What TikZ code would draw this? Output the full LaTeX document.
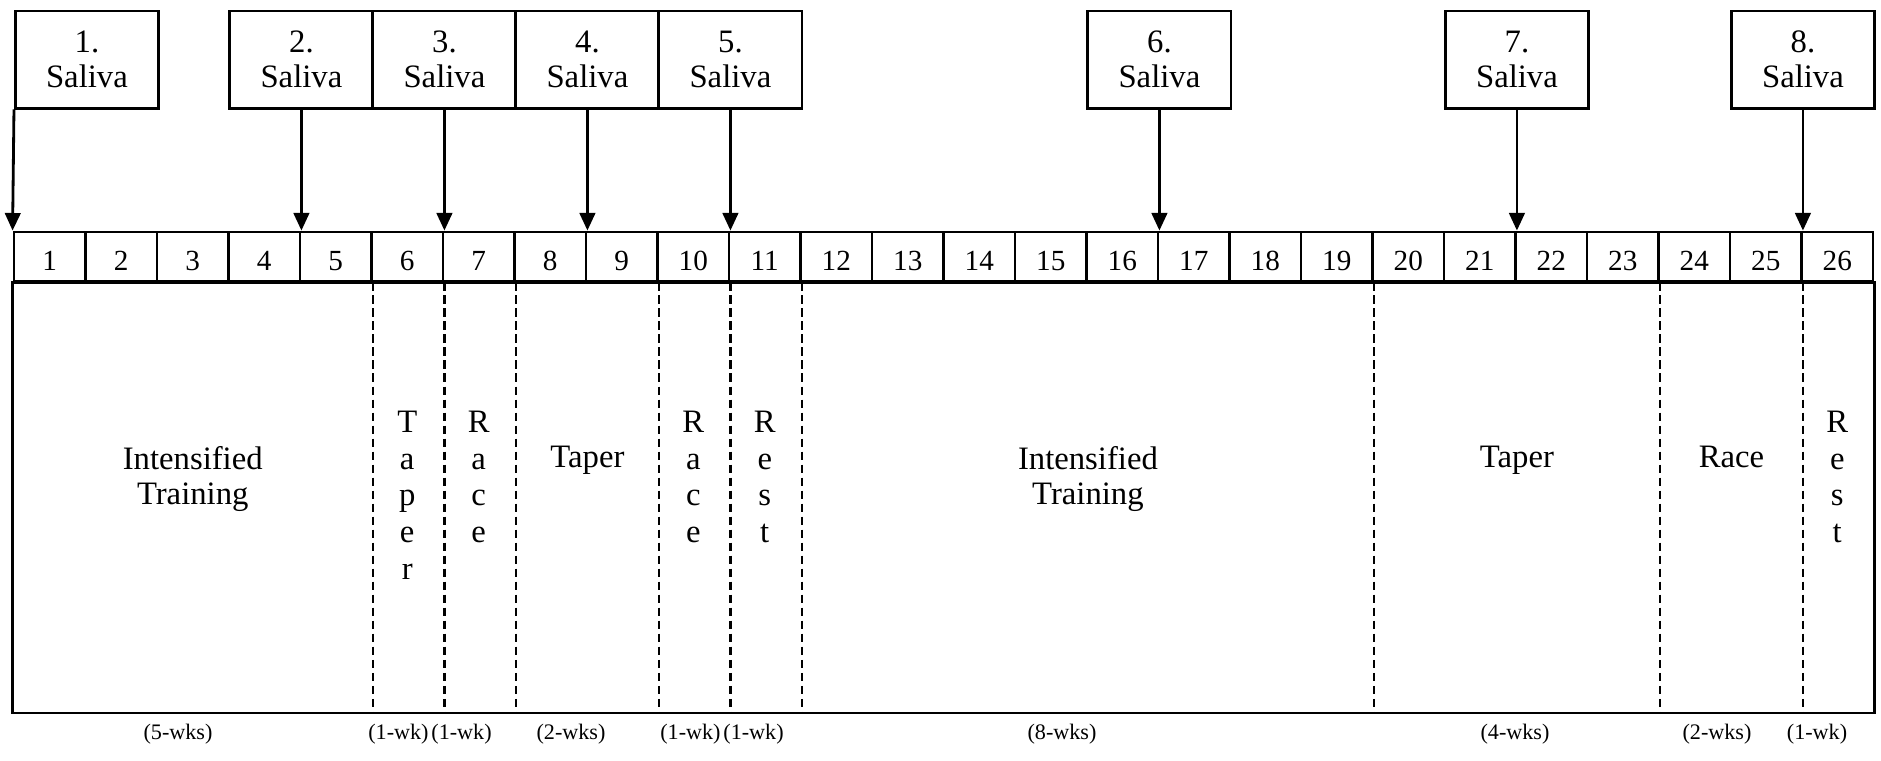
\documentclass[tikz,border=0pt]{standalone}
\usepackage{fontspec}
\setmainfont{Liberation Serif}
\usetikzlibrary{arrows.meta,positioning}

\begin{document}
\begin{tikzpicture}[x=0.01cm, y=-0.01cm, line width=0.8pt,
    >={Triangle[length=5pt,width=4.4pt]},
    week/.style={rectangle, draw, minimum width=0.715cm, minimum height=0.49cm, inner sep=0pt,
        text height=8.1pt, text depth=0pt, font=\fontsize{8.3}{9}\selectfont},
    salbox/.style={rectangle, draw, minimum width=1.43cm, minimum height=0.97cm, inner sep=0pt,
        align=center, font=\fontsize{9.3}{10}\selectfont},
    phase/.style={anchor=north, inner sep=0pt, align=center, font=\fontsize{9.3}{10}\selectfont},
    vphase/.style={phase, font=\fontsize{9.3}{10.4}\selectfont},
    bound/.style={dash pattern=on 2.4pt off 1.3pt},
    weeks/.style={anchor=base, inner sep=0pt, font=\fontsize{6.3}{7}\selectfont}]

    \useasboundingbox (0,0) rectangle (1881,761);

    % week row
    \foreach \i in {1,...,26}
        \node (wk\i) [week] at ({14+71.5*(\i-0.5)},256.5) {\i};

    \coordinate (bot) at (0,713);
    \coordinate (top) at (0,445);
    \coordinate (vtop) at (0,410);

    \draw (wk1.south west) rectangle (wk26.south east |- bot);
    \foreach \i in {5,6,7,9,10,11,19,23,25}
        \draw[bound] (wk\i.south east) -- (wk\i.south east |- bot);

    % saliva samples
    \node (sal1) [salbox, above=1.21cm of wk1.north east] {1.\\Saliva};
    \node (sal2) [salbox, above=1.21cm of wk4.north east] {2.\\Saliva};
    \node (sal3) [salbox, above=1.21cm of wk6.north east] {3.\\Saliva};
    \node (sal4) [salbox, above=1.21cm of wk8.north east] {4.\\Saliva};
    \node (sal5) [salbox, above=1.21cm of wk10.north east] {5.\\Saliva};
    \node (sal6) [salbox, above=1.21cm of wk16.north east] {6.\\Saliva};
    \node (sal7) [salbox, above=1.21cm of wk21.north east] {7.\\Saliva};
    \node (sal8) [salbox, above=1.21cm of wk25.north east] {8.\\Saliva};

    \draw[->] (sal1.south west) -- (wk1.north west);
    \foreach \s/\w in {2/4,3/6,4/8,5/10,6/16,7/21,8/25}
        \draw[->] (sal\s) -- (wk\w.north east);

    % phases
    \node (train1) [phase] at (wk3 |- top) {Intensified\\Training};
    \node (taper1) [vphase] at (wk6 |- vtop) {T\\a\\p\\e\\r};
    \node (race1) [vphase] at (wk7 |- vtop) {R\\a\\c\\e};
    \node (taper2) [phase] at (wk8.east |- top) {Taper};
    \node (race2) [vphase] at (wk10 |- vtop) {R\\a\\c\\e};
    \node (rest1) [vphase] at (wk11 |- vtop) {R\\e\\s\\t};
    \node (train2) [phase] at (wk15.east |- top) {Intensified\\Training};
    \node (taper3) [phase] at (wk21.east |- top) {Taper};
    \node (race3) [phase] at (wk24.east |- top) {Race};
    \node (rest2) [vphase] at (wk26 |- vtop) {R\\e\\s\\t};

    % lengths
    \node (len1) [weeks] at (178,740) {(5-wks)};
    \node (len2) [weeks, anchor=base east] at (430,740) {(1-wk)};
    \node (len3) [weeks, anchor=base west] at (430,740) {(1-wk)};
    \node (len4) [weeks] at (571,740) {(2-wks)};
    \node (len5) [weeks, anchor=base east] at (722,740) {(1-wk)};
    \node (len6) [weeks, anchor=base west] at (722,740) {(1-wk)};
    \node (len7) [weeks] at (1062,740) {(8-wks)};
    \node (len8) [weeks] at (1515,740) {(4-wks)};
    \node (len9) [weeks] at (1717,740) {(2-wks)};
    \node (len10) [weeks] at (1817,740) {(1-wk)};
\end{tikzpicture}
\end{document}
